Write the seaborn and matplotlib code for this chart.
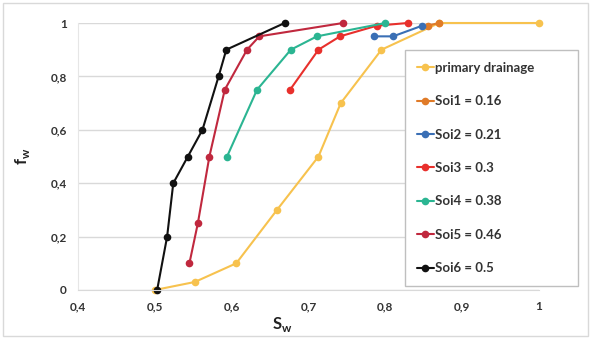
import matplotlib
matplotlib.use("Agg")
import matplotlib.pyplot as plt
import seaborn as sns
import pandas as pd
from matplotlib.patches import Rectangle

# Data
labels = ["primary drainage", "Soi1 = 0.16", "Soi2 = 0.21", "Soi3 = 0.3",
          "Soi4 = 0.38", "Soi5 = 0.46", "Soi6 = 0.5"]
pd_x = [0.50, 0.552, 0.606, 0.659, 0.713, 0.742, 0.795, 0.87, 1.0]
pd_y = [0.0, 0.03, 0.10, 0.30, 0.50, 0.70, 0.90, 1.0, 1.0]
soi1_x = [0.855, 0.87]
soi1_y = [0.99, 1.0]
soi2_x = [0.785, 0.81, 0.848]
soi2_y = [0.95, 0.95, 0.99]
soi3_x = [0.676, 0.713, 0.741, 0.789, 0.829]
soi3_y = [0.75, 0.90, 0.95, 0.99, 1.0]
soi4_x = [0.594, 0.633, 0.677, 0.711, 0.80]
soi4_y = [0.50, 0.75, 0.90, 0.95, 1.0]
soi5_x = [0.545, 0.556, 0.571, 0.591, 0.620, 0.636, 0.745]
soi5_y = [0.10, 0.25, 0.50, 0.75, 0.90, 0.95, 1.0]
soi6_x = [0.503, 0.516, 0.524, 0.543, 0.562, 0.583, 0.593, 0.669]
soi6_y = [0.0, 0.20, 0.40, 0.50, 0.60, 0.80, 0.90, 1.0]
xticks = [0.4, 0.5, 0.6, 0.7, 0.8, 0.9, 1.0]
xtick_labels = ["0,4", "0,5", "0,6", "0,7", "0,8", "0,9", "1"]
yticks = [0, 0.2, 0.4, 0.6, 0.8, 1.0]
ytick_labels = ["0", "0,2", "0,4", "0,6", "0,8", "1"]

series_x = [pd_x, soi1_x, soi2_x, soi3_x, soi4_x, soi5_x, soi6_x]
series_y = [pd_y, soi1_y, soi2_y, soi3_y, soi4_y, soi5_y, soi6_y]
colors = ["#f7c24e", "#e07b28", "#3a6fb5", "#e8302c", "#2bb592", "#c0283e", "#111111"]

sns.set_style("white")
plt.rcParams["font.family"] = ["Lato", "DejaVu Sans"]

fig = plt.figure(figsize=(5.92, 3.39), dpi=100)
ax = fig.add_axes([78/592, 49/339, (539-78)/592, (290-23)/339])

for xs, ys, c, lab in zip(series_x, series_y, colors, labels):
    df = pd.DataFrame({"x": xs, "y": ys})
    sns.lineplot(data=df, x="x", y="y", ax=ax, color=c, marker="o",
                 markersize=5.5, markeredgewidth=0, linewidth=1.5,
                 sort=False, estimator=None, label=lab, clip_on=False)

ax.set_xlim(0.4, 1.0)
ax.set_ylim(0, 1.0)
ax.set_xticks(xticks)
ax.set_xticklabels(xtick_labels)
ax.set_yticks(yticks)
ax.set_yticklabels(ytick_labels)
ax.tick_params(axis="both", length=0, labelsize=8.5, colors="#333333", pad=8)
for t in ax.get_xticklabels() + ax.get_yticklabels():
    t.set_fontweight("bold")
ax.yaxis.grid(True, color="#d9d9d9", linewidth=1)
ax.xaxis.grid(False)
ax.set_axisbelow(True)
for s in ["top", "right"]:
    ax.spines[s].set_visible(False)
ax.spines["left"].set_color("#e6e6e6")
ax.spines["bottom"].set_color("#d9d9d9")

ax.set_xlabel("S$_\\mathregular{w}$", fontsize=12, fontweight="bold", color="#222222")
ax.xaxis.set_label_coords((282-78)/461, -0.095)
ax.set_ylabel("f$_\\mathregular{w}$", fontsize=12, fontweight="bold", color="#222222")
ax.yaxis.set_label_coords(-0.10, 0.5)

leg = ax.legend(loc="upper left", bbox_to_anchor=(405/592, 57/339, 173/592, 232/339),
                bbox_transform=fig.transFigure, mode="expand", frameon=True,
                fancybox=False, edgecolor="#bfbfbf", framealpha=1,
                prop={"size": 9.5, "weight": "bold"}, labelspacing=1.62,
                handlelength=1.3, handletextpad=0.1, borderpad=0.9, borderaxespad=0)
for t in leg.get_texts():
    t.set_color("#333333")
leg.get_frame().set_linewidth(1)

fig.patches.append(Rectangle((3/592, 3/339), 585/592, 333/339, transform=fig.transFigure,
                             fill=False, edgecolor="#d9d9d9", linewidth=1))

fig.savefig("out.png", dpi=100)
